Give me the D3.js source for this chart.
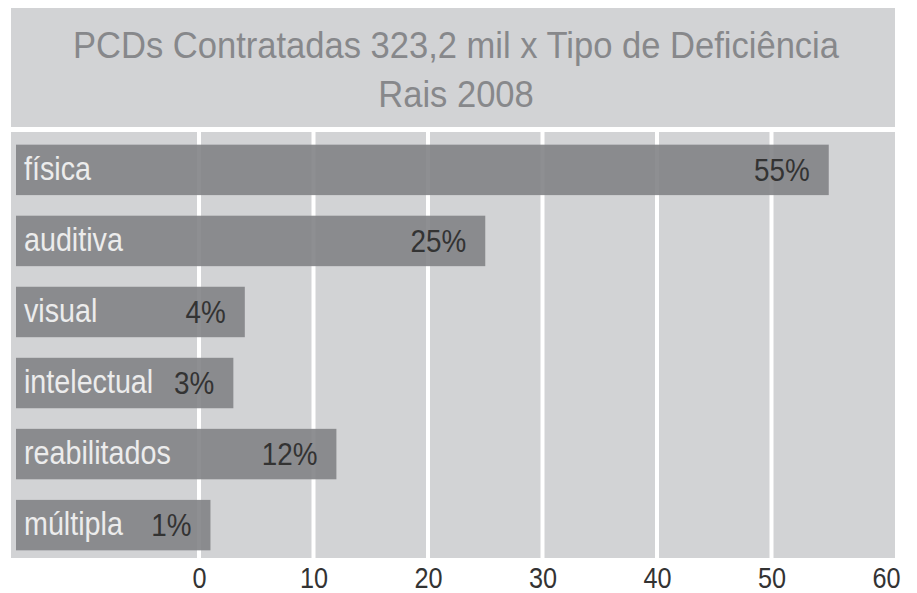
<!DOCTYPE html>
<meta charset="utf-8">
<script src="https://d3js.org/d3.v7.min.js"></script>
<style>
  body { margin: 0; background: #fff; }
  text { font-family: "Liberation Sans", Arial, sans-serif; }
</style>
<svg id="chart" width="917" height="593"></svg>
<script>
    // data
    var categories = ["física", "auditiva", "visual", "intelectual", "reabilitados", "múltipla"];
    var percents = [55, 25, 4, 3, 12, 1];
    var tickValues = [0, 10, 20, 30, 40, 50, 60];
    var titleLines = ["PCDs Contratadas 323,2 mil x Tipo de Deficiência", "Rais 2008"];

    var svg = d3.select("#chart");

    var panelLeft = 11, panelRight = 895;
    // the original type is a bit condensed
    var squeeze = 0.87;

    // title box
    svg.append("rect")
        .attr("x", panelLeft).attr("y", 8)
        .attr("width", panelRight - panelLeft).attr("height", 119)
        .attr("fill", "#d2d3d5");

    svg.selectAll(".title")
        .data(titleLines)
        .enter().append("text")
        .attr("class", "title")
        .attr("transform", function(d, i) { return "translate(456," + (58 + i * 49) + ") scale(0.96,1)"; })
        .attr("text-anchor", "middle")
        .attr("fill", "#87888b")
        .style("font-size", "36px")
        .text(function(d) { return d; });

    // plot box
    var plotTop = 132, plotBottom = 558;
    svg.append("rect")
        .attr("x", panelLeft).attr("y", plotTop)
        .attr("width", panelRight - panelLeft).attr("height", plotBottom - plotTop)
        .attr("fill", "#d2d3d5");

    var x = d3.scaleLinear().domain([0, 60]).range([199, 886]);
    var y = d3.scaleBand()
        .domain(categories)
        .range([134, 561])
        .paddingInner(0.29)
        .paddingOuter(0.15);

    // gridlines (behind the bars, bars are slightly see-through)
    svg.append("g")
        .selectAll("line")
        .data(tickValues.slice(0, -1))
        .enter().append("line")
        .attr("x1", function(d) { return x(d); })
        .attr("x2", function(d) { return x(d); })
        .attr("y1", plotTop)
        .attr("y2", plotBottom)
        .attr("stroke", "#fff")
        .attr("stroke-width", 4);

    var barLeft = 16;
    var rows = svg.append("g")
        .selectAll("g")
        .data(categories)
        .enter().append("g");

    rows.append("rect")
        .attr("x", barLeft)
        .attr("y", function(d) { return y(d); })
        .attr("width", function(d, i) { return x(percents[i]) - barLeft; })
        .attr("height", y.bandwidth())
        .attr("fill", "#828386")
        .attr("fill-opacity", 0.9);

    rows.append("text")
        .attr("transform", function(d) {
            return "translate(24," + (y(d) + y.bandwidth() / 2 + 10) + ") scale(" + squeeze + ",1)";
        })
        .attr("fill", "#ececec")
        .style("font-size", "33px")
        .text(function(d) { return d; });

    rows.append("text")
        .attr("transform", function(d, i) {
            return "translate(" + (x(percents[i]) - 19) + "," + (y(d) + y.bandwidth() / 2 + 11) + ") scale(" + squeeze + ",1)";
        })
        .attr("text-anchor", "end")
        .attr("fill", "#333")
        .style("font-size", "32px")
        .text(function(d, i) { return percents[i] + "%"; });

    // x axis labels
    var axis = d3.axisBottom(x).tickValues(tickValues).tickSize(0).tickPadding(0);
    var gAxis = svg.append("g")
        .attr("transform", "translate(0,567)")
        .call(axis);
    gAxis.select(".domain").remove();
    gAxis.selectAll("text")
        .attr("dy", "0.71em")
        .attr("transform", "scale(" + squeeze + ",1)")
        .attr("fill", "#333")
        .style("font-size", "29px")
        .style("font-family", "\"Liberation Sans\", Arial, sans-serif");
</script>
